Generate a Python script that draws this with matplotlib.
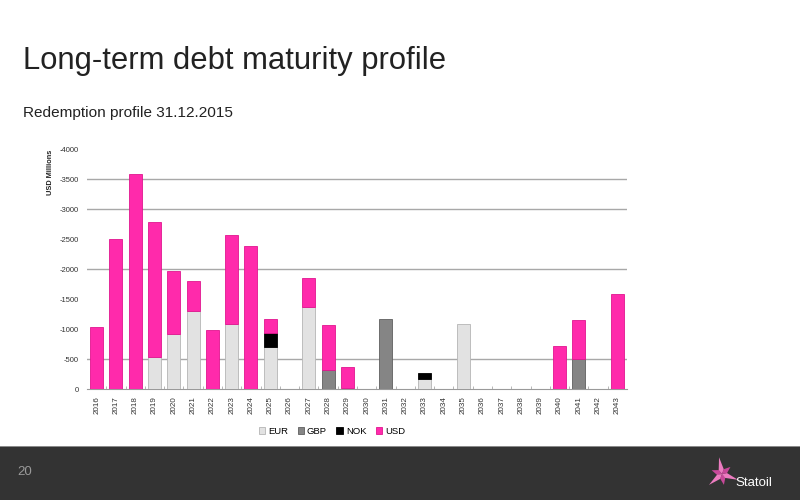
import numpy as np
import matplotlib
matplotlib.use("Agg")
import matplotlib.pyplot as plt
from matplotlib.patches import Rectangle, Polygon

plt.rcParams['font.family'] = ['Liberation Sans', 'DejaVu Sans']
plt.rcParams['axes.unicode_minus'] = False

# === DATA (USD millions, redemptions shown as negatives) ===
years = [str(y) for y in range(2016, 2044)]
eur = [0, 0, 0, -530, -920, -1300, 0, -1080, 0, -700, 0, -1360, 0, -15,
       0, 0, 0, -160, 0, -1080, 0, 0, 0, 0, 0, 0, 0, 0]
gbp = [0, 0, 0, 0, 0, 0, 0, 0, 0, 0, 0, 0, -320, 0,
       0, -1170, 0, 0, 0, 0, 0, 0, 0, 0, 0, -500, 0, 0]
nok = [0, 0, 0, 0, 0, 0, 0, 0, 0, -230, 0, 0, 0, 0,
       0, 0, 0, -100, 0, 0, 0, 0, 0, 0, 0, 0, 0, 0]
usd = [-1030, -2500, -3590, -2250, -1050, -500, -980, -1480, -2390, -240, 0, -490, -740, -345,
       0, 0, 0, 0, 0, 0, 0, 0, 0, 0, -720, -650, 0, -1580]

series = [("EUR", eur, "#e2e2e2", "#b5b5b5"),
          ("GBP", gbp, "#858585", "#606060"),
          ("NOK", nok, "#000000", "#000000"),
          ("USD", usd, "#ff2aab", "#e0168f")]

fig = plt.figure(figsize=(8, 5), dpi=100)

# footer band
fig.patches.append(Rectangle((0, 0), 1, 53 / 500, transform=fig.transFigure,
                             facecolor="#333333", edgecolor="none", zorder=0))
fig.patches.append(Rectangle((0, 53 / 500), 1, 1.5 / 500, transform=fig.transFigure,
                             facecolor="#8a8a8a", edgecolor="none", zorder=0))

fig.text(23 / 800, 1 - 69 / 500, "Long-term debt maturity profile", fontsize=22.3,
         color="#222222", va="baseline")
fig.text(23 / 800, 1 - 117 / 500, "Redemption profile 31.12.2015", fontsize=11.1,
         color="#222222", va="baseline")
fig.text(17 / 800, 1 - 472 / 500, "20", fontsize=9.5, color="#9a9a9a", va="center")

ax = fig.add_axes([87 / 800, 1 - 389 / 500, 540 / 800, 240 / 500])
x = np.arange(len(years))
bottom = np.zeros(len(years))
for name, vals, col, edge in series:
    vals = np.array(vals, dtype=float)
    keep = vals != 0
    ax.bar(x[keep], vals[keep], width=0.68, bottom=bottom[keep], color=col,
           edgecolor=edge, linewidth=0.6, label=name, zorder=3)
    bottom += vals

ax.set_xlim(-0.5, len(years) - 0.5)
ax.set_ylim(0, -4000)
ax.set_yticks(np.arange(0, -4001, -500))
ax.tick_params(axis="y", length=0, labelsize=5.5, labelcolor="#333333", pad=6)
ax.set_xticks(x)
ax.set_xticklabels(years, rotation=90, fontsize=5.8, color="#333333")
ax.set_xticks(x[:-1] + 0.5, minor=True)
ax.tick_params(axis="x", which="major", length=0, pad=5)
ax.tick_params(axis="x", which="minor", length=2, direction="in", color="#aaaaaa")
for v in [-3500, -3000, -2000, -500]:
    ax.axhline(v, color="#a8a8a8", linewidth=1.0, zorder=1)
for s in ["left", "right", "top"]:
    ax.spines[s].set_visible(False)
ax.spines["bottom"].set_color("#9a9a9a")

fig.text(50 / 800, 1 - 172 / 500, "USD Millions", rotation=90, fontsize=5.3,
         fontweight="bold", ha="center", va="center", color="#222222")

fig.legend(loc="center", bbox_to_anchor=(332 / 800, 1 - 431 / 500), ncol=4,
           frameon=False, fontsize=6.8, handlelength=0.7, handleheight=0.7,
           handletextpad=0.3, columnspacing=1.0)

# logo: pink star + name
cx, cy = 722 / 800, 1 - 474 / 500
arms = [(10, 17), (70, 11), (130, 17), (190, 11), (250, 17), (310, 11)]
for ang, r in arms:
    a = np.deg2rad(ang + 90)
    tipx, tipy = cx + r * np.cos(a) / 800, cy + r * np.sin(a) / 500
    lx, ly = cx + 5 * np.cos(a + 0.55) / 800, cy + 5 * np.sin(a + 0.55) / 500
    rx, ry = cx + 5 * np.cos(a - 0.55) / 800, cy + 5 * np.sin(a - 0.55) / 500
    shade = "#ec7cc0" if ang % 120 == 10 else "#c8489a"
    fig.patches.append(Polygon([(cx, cy), (lx, ly), (tipx, tipy), (rx, ry)],
                               closed=True, transform=fig.transFigure,
                               facecolor=shade, edgecolor="none", zorder=2))
fig.text(735 / 800, 1 - 483 / 500, "Statoil", fontsize=9.5, color="white",
         va="center", family=["Liberation Sans Narrow", "Liberation Sans", "DejaVu Sans"])

fig.savefig("out.png", dpi=100)
